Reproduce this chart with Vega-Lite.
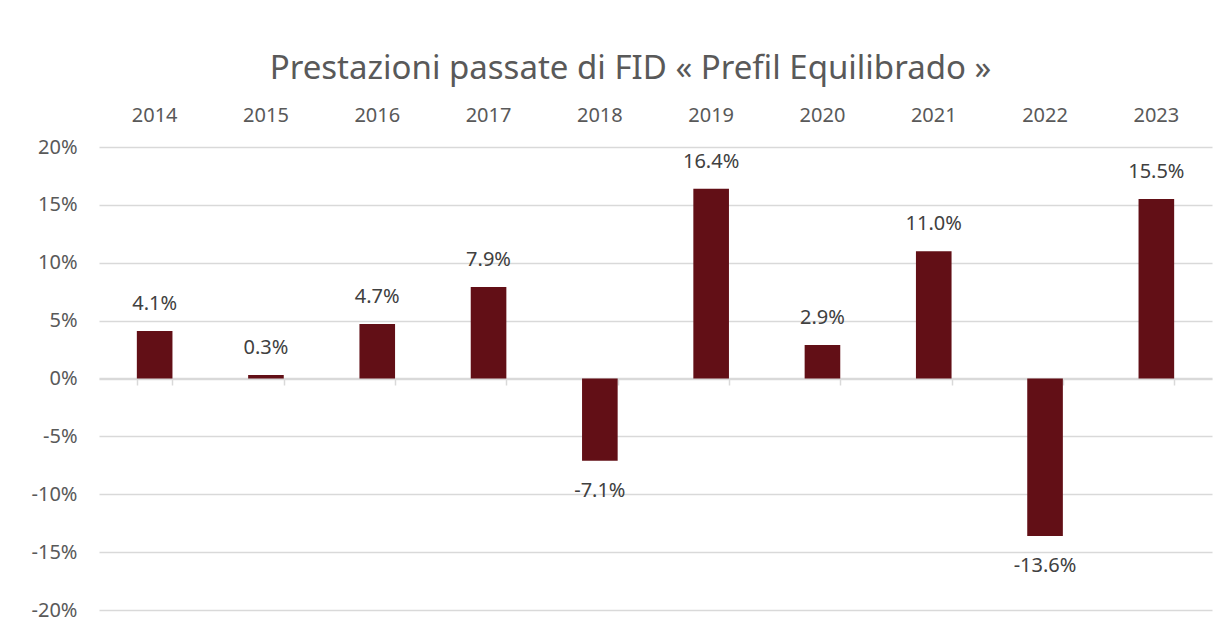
{
  "$schema": "https://vega.github.io/schema/vega-lite/v6.json",
  "autosize": {"type": "none"},
  "width": 1113,
  "height": 463,
  "padding": {"left": 99, "top": 147, "right": 17, "bottom": 25},
  "background": "white",
  "config": {
    "font": "Noto Sans",
    "view": {"stroke": null},
    "locale": {
      "number": {
        "decimal": ".",
        "thousands": ",",
        "grouping": [3],
        "currency": ["$", ""],
        "minus": "-"
      }
    }
  },
  "title": {
    "text": "Prestazioni passate di FID « Prefil Equilibrado »",
    "font": "Noto Sans",
    "fontSize": 33,
    "fontWeight": "normal",
    "color": "#595959",
    "anchor": "middle",
    "dx": -25,
    "offset": 19
  },
  "data": {
    "values": [
      {"year": "2014", "ret": 0.041},
      {"year": "2015", "ret": 0.003},
      {"year": "2016", "ret": 0.047},
      {"year": "2017", "ret": 0.079},
      {"year": "2018", "ret": -0.071},
      {"year": "2019", "ret": 0.164},
      {"year": "2020", "ret": 0.029},
      {"year": "2021", "ret": 0.110},
      {"year": "2022", "ret": -0.136},
      {"year": "2023", "ret": 0.155}
    ]
  },
  "encoding": {
    "x": {
      "field": "year",
      "type": "ordinal",
      "scale": {"paddingInner": 0.68, "paddingOuter": 0.34},
      "axis": null
    },
    "y": {
      "field": "ret",
      "type": "quantitative",
      "scale": {"domain": [-0.2, 0.2], "nice": false, "zero": false},
      "axis": {
        "title": null,
        "values": [-0.2, -0.15, -0.1, -0.05, 0, 0.05, 0.1, 0.15, 0.2],
        "format": ".0%",
        "labelFontSize": 20,
        "labelColor": "#595959",
        "labelPadding": 22,
        "ticks": false,
        "domain": false,
        "grid": true,
        "gridColor": "#d9d9d9",
        "gridWidth": 1.5
      }
    }
  },
  "layer": [
    {
      "mark": {"type": "bar", "color": "#620f16"},
      "encoding": {
        "x": {
          "field": "year",
          "type": "ordinal",
          "axis": {
            "orient": "top",
            "title": null,
            "labelAngle": 0,
            "labelFontSize": 20,
            "labelColor": "#595959",
            "labelPadding": 22,
            "ticks": false,
            "domain": false
          }
        },
        "y": {"field": "ret", "type": "quantitative"}
      }
    },
    {
      "mark": {"type": "rule", "color": "#d9d9d9", "strokeWidth": 1.5},
      "encoding": {
        "x": {
          "field": "year",
          "type": "ordinal",
          "axis": {
            "orient": "bottom",
            "offset": -232,
            "title": null,
            "labels": false,
            "ticks": true,
            "tickBand": "extent",
            "tickColor": "#d9d9d9",
            "tickWidth": 1.5,
            "tickSize": 7,
            "domain": true,
            "domainColor": "#d9d9d9",
            "domainWidth": 1.5
          }
        },
        "y": {"datum": 0},
        "opacity": {"value": 0}
      }
    },
    {
      "transform": [{"filter": "datum.ret >= 0"}],
      "mark": {"type": "text", "fontSize": 20, "color": "#404040", "baseline": "bottom", "dy": -17},
      "encoding": {
        "x": {"field": "year", "type": "ordinal"},
        "y": {"field": "ret", "type": "quantitative"},
        "text": {"field": "ret", "type": "quantitative", "format": ".1%"}
      }
    },
    {
      "transform": [{"filter": "datum.ret < 0"}],
      "mark": {"type": "text", "fontSize": 20, "color": "#404040", "baseline": "top", "dy": 20},
      "encoding": {
        "x": {"field": "year", "type": "ordinal"},
        "y": {"field": "ret", "type": "quantitative"},
        "text": {"field": "ret", "type": "quantitative", "format": ".1%"}
      }
    }
  ],
  "resolve": {"axis": {"x": "independent"}}
}
